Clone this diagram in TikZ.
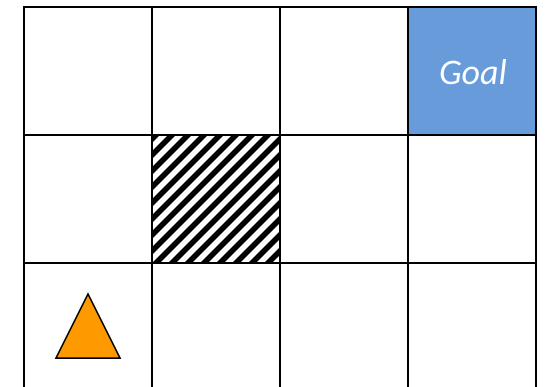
\documentclass[tikz,border=0pt]{standalone}
\usepackage{fontspec}
\newfontfamily\goalfont{Carlito}
\definecolor{goalblue}{RGB}{104,155,218}
\definecolor{agentorange}{RGB}{255,153,0}
\tikzset{
  gridline/.style={line width=1.8pt, draw=black},
  hatchline/.style={line width=5.4pt, draw=black},
  goalcell/.style={fill=goalblue, draw=none},
  goaltext/.style={text=white, font=\goalfont\itshape\fontsize{36}{42}\selectfont, inner sep=0pt},
  agent/.style={fill=agentorange, draw=black, line width=1.5pt, line join=miter},
}
\begin{document}
\begin{tikzpicture}[x=1pt,y=-1pt]
\useasboundingbox (0,0) rectangle (548,387);
% goal cell
\fill[goalcell] (408,7) rectangle (536,135);
\node[goaltext] (goal) at (473,72) {Goal};
% hatched obstacle
\begin{scope}
  \clip (152,135) rectangle (280,263);
  \foreach \k in {-9,...,9} {
    \draw[hatchline] (152+\k*16,263+4) -- ++(140,-140);
  }
\end{scope}
% agent
\draw[agent] (88,294) coordinate (apex) -- (120,358) coordinate (br) -- (56,358) coordinate (bl) -- cycle;
% grid
\foreach \x in {24,152,280,408,536} {
  \draw[gridline] (\x,6.1) -- (\x,387);
}
\foreach \y in {7,135,263} {
  \draw[gridline] (23.1,\y) -- (536.9,\y);
}
\end{tikzpicture}
\end{document}
